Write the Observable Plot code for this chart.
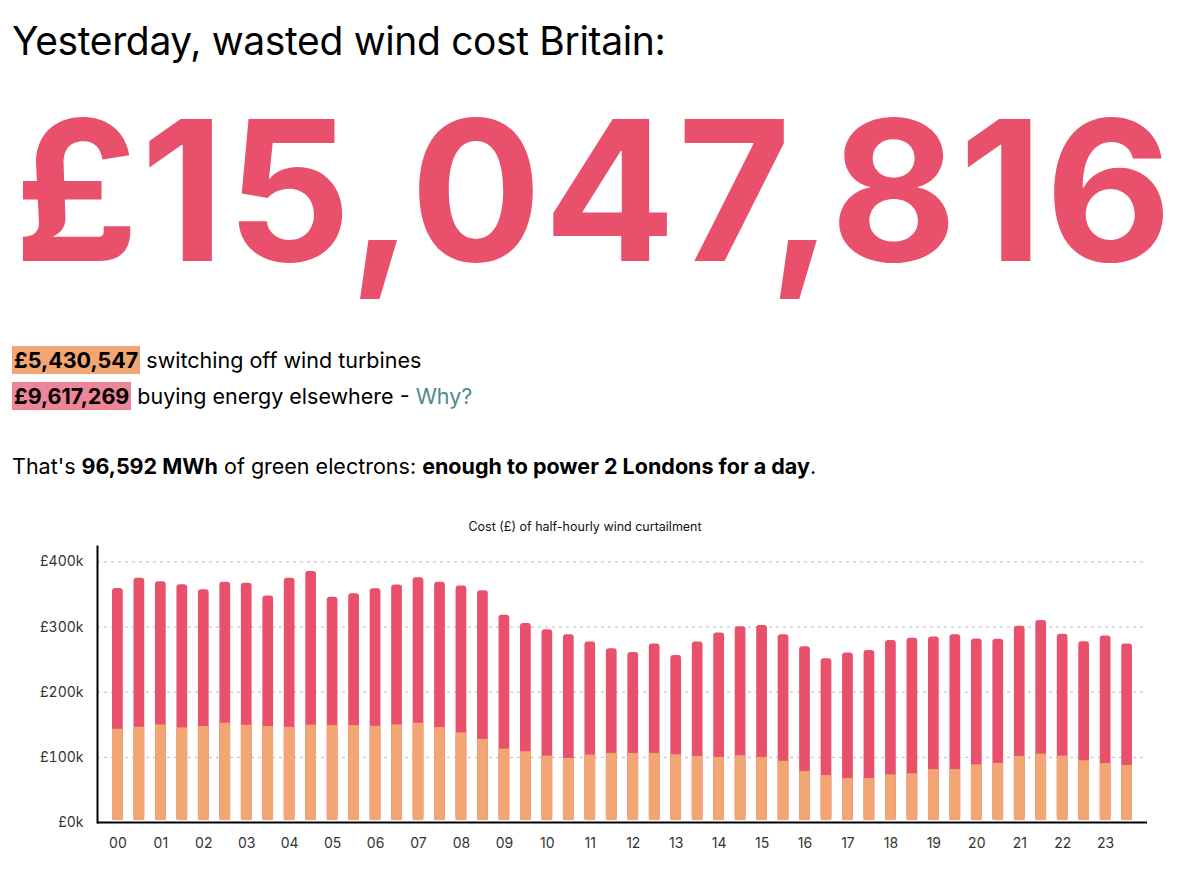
<!DOCTYPE html>
<html>
<head>
<meta charset="utf-8">
<script src="https://cdn.jsdelivr.net/npm/d3@7"></script>
<script src="https://cdn.jsdelivr.net/npm/@observablehq/plot@0.6"></script>
<style>
  body { margin: 0; background: #fff; font-family: Inter, "Noto Sans", sans-serif; color: #000; }
  #page { position: relative; width: 1200px; height: 874px; overflow: hidden; }
  h1 { position: absolute; left: 12px; top: 18px; margin: 0; font-size: 39px; font-weight: 400; letter-spacing: -0.35px; line-height: 1.2; }
  #total { position: absolute; left: 14px; top: 93px; font-size: 195px; font-weight: 700; color: #e9506c; letter-spacing: 2px; line-height: 1; white-space: nowrap; }
  .line { position: absolute; left: 12px; font-size: 21.5px; line-height: 1.3; white-space: nowrap; }
  .hl { font-weight: 700; padding: 1px 2px; }
  .hl.off { background: #f2a673; }
  .hl.buy { background: #ef8599; }
  .why { color: #4d8a8c; }
  #chart-title { position: absolute; left: 0; width: 1170px; top: 519px; text-align: center; font-size: 12.5px; color: #111; }
  #chart { position: absolute; left: 0; top: 536px; }
</style>
</head>
<body>
<div id="page">
  <h1>Yesterday, wasted wind cost Britain:</h1>
  <div id="total"></div>
  <div class="line" style="top:347px"><span class="hl off" id="off-total"></span> switching off wind turbines</div>
  <div class="line" style="top:383px"><span class="hl buy" id="buy-total"></span> buying energy elsewhere - <span class="why">Why?</span></div>
  <div class="line" style="top:453px">That's <b>96,592 MWh</b> of green electrons: <b>enough to power 2 Londons for a day</b>.</div>
  <div id="chart-title">Cost (£) of half-hourly wind curtailment</div>
  <div id="chart"></div>
</div>
<script>
// Daily totals (£)
const totalOff = 5430547;
const totalBuy = 9617269;

// Hour labels on the x axis; each hour has two half-hourly settlement periods
const hours = ["00","01","02","03","04","05","06","07","08","09","10","11",
               "12","13","14","15","16","17","18","19","20","21","22","23"];
const slots = hours.flatMap(h => [h + ":00", h + ":30"]);

// Half-hourly cost of switching off wind turbines (£k)
const switchOff = [
  143.1, 146.2, 149.8, 145.2, 147.2, 152.4, 149.3, 147.2, 146.2, 149.3, 148.8, 148.8,
  147.7, 149.8, 152.4, 145.7, 137.5, 127.7, 112.7, 108.6, 101.9, 98.3, 103.5, 106.0,
  106.0, 106.0, 104.0, 101.4, 99.9, 102.4, 99.9, 94.0, 78.2, 72.1, 67.4, 67.4,
  73.1, 74.6, 81.3, 81.3, 88.5, 90.6, 101.4, 105.0, 101.9, 94.7, 90.6, 87.5
];

// Half-hourly cost of buying replacement energy elsewhere (£k)
const buyElsewhere = [
  216.2, 228.6, 219.8, 219.8, 210.1, 216.2, 217.8, 200.3, 228.6, 235.8, 197.1, 202.3,
  211.1, 214.7, 223.4, 222.9, 225.4, 228.0, 205.4, 196.7, 194.1, 190.0, 173.5, 160.7,
  155.0, 167.9, 152.4, 175.6, 191.0, 198.2, 202.3, 194.3, 191.6, 179.1, 192.6, 196.7,
  206.4, 208.0, 203.4, 207.0, 193.1, 190.5, 199.8, 204.9, 186.9, 182.8, 195.6, 186.4
];

const yTicks = [0, 100000, 200000, 300000, 400000];

const fmt = d3.format(",");
document.getElementById("total").textContent = "£" + fmt(totalOff + totalBuy);
document.getElementById("off-total").textContent = "£" + fmt(totalOff);
document.getElementById("buy-total").textContent = "£" + fmt(totalBuy);

const rows = slots.map((slot, i) => ({
  slot,
  off: switchOff[i] * 1000,
  total: (switchOff[i] + buyElsewhere[i]) * 1000
}));

const chart = Plot.plot({
  width: 1200,
  height: 330,
  marginTop: 10,
  marginBottom: 44,
  marginLeft: 97,
  marginRight: 53,
  style: { fontFamily: "Inter, 'Noto Sans', sans-serif", fontSize: "14px", color: "#333", background: "transparent" },
  x: { type: "band", domain: slots, paddingInner: 0.5, paddingOuter: 0.7, round: false },
  y: { domain: [0, d3.max(rows, d => d.total) * 1.1] },
  marks: [
    Plot.gridY(yTicks, { stroke: "#bbb", strokeOpacity: 1, strokeDasharray: "3,4" }),
    // full-height bar with rounded top; the orange share covers its lower part
    Plot.barY(rows, { x: "slot", y: "total", fill: "#e9506c", rx: 3, insetBottom: 2 }),
    Plot.barY(rows, { x: "slot", y: "off", fill: "#f2a673", insetBottom: 2 }),
    Plot.axisY(yTicks, { tickSize: 0, tickPadding: 14, tickFormat: d => `£${d / 1000}k`, label: null }),
    Plot.axisX(slots.filter((s, i) => i % 2 === 0), { tickSize: 0, tickPadding: 16, tickFormat: s => s.slice(0, 2), label: null }),
    Plot.frame({ anchor: "left", stroke: "#000", strokeWidth: 2 }),
    Plot.ruleY([0], { stroke: "#000", strokeWidth: 2 })
  ]
});
document.getElementById("chart").appendChild(chart);
</script>
</body>
</html>
